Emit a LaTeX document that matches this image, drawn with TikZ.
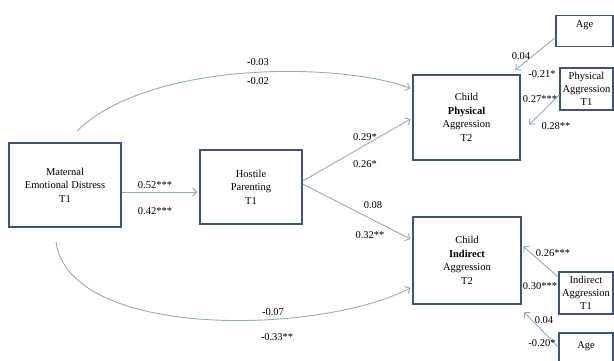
\documentclass[tikz,border=0pt]{standalone}
\usepackage{fontspec}
\setmainfont{Liberation Serif}
\usepackage{tikz}
\usetikzlibrary{arrows.meta}
\definecolor{boxline}{HTML}{3F5474}
\definecolor{arrline}{HTML}{93ABC6}

\begin{document}
\begin{tikzpicture}[x=1pt, y=-1pt, font=\fontsize{10.5}{13.6}\selectfont,
    var/.style={draw=boxline, line width=1.5pt, align=center, inner sep=2pt},
    link/.style={draw=arrline, line width=0.9pt, shorten >=2pt, -{Straight Barb[length=4pt,width=8pt]}},
    coef/.style={inner sep=1pt}]
    \useasboundingbox (0,0) rectangle (614,361);
    % variables
    \node[var, minimum width=112pt, minimum height=84pt] (med) at (65,185) {Maternal\\Emotional Distress\\T1};
    \node[var, minimum width=102pt, minimum height=74pt] (hp) at (251,187) {Hostile\\Parenting\\T1};
    \node[var, minimum width=107pt, minimum height=85pt] (cpa) at (466.5,117.5) {Child\\\textbf{Physical}\\Aggression\\T2};
    \node[var, minimum width=108pt, minimum height=87pt] (cia) at (467,260.5) {Child\\\textbf{Indirect}\\Aggression\\T2};
    % controls on the right
    \node[var, anchor=north, minimum width=57pt, text height=10pt, text depth=17pt] (age1) at (584.5,15) {Age};
    \node[var, minimum width=53pt, minimum height=42pt, inner sep=0pt, font=\fontsize{10.5}{12.8}\selectfont] (pa1) at (586.5,89) {Physical\\Aggression\\T1};
    \node[var, minimum width=54pt, minimum height=42pt, inner sep=0pt, font=\fontsize{10.5}{12.8}\selectfont] (ia1) at (586,293) {Indirect\\Aggression\\T1};
    \node[var, anchor=north, minimum width=54pt, text height=14pt, text depth=17pt] (age2) at (586,332) {Age};
    % paths
    \coordinate (mtop) at (77,131);
    \coordinate (mbot) at (56,242);
    \draw[link] ([yshift=-7pt]med.east) -- ([yshift=-5pt]hp.west);
    \draw[link] (mtop) .. controls (150,60) and (340,62) .. ([yshift=28.5pt]cpa.west);
    \draw[link] (mbot) .. controls (70,340) and (320,335) .. ([yshift=-26.5pt]cia.west);
    \draw[link] ([yshift=6pt]hp.east) -- ([yshift=-0.5pt]cpa.west);
    \draw[link] ([yshift=3pt]hp.east) -- ([yshift=20.5pt]cia.west);
    \draw[link] ([yshift=-6.5pt]age1.west) -- ([xshift=-7pt,yshift=3pt]cpa.north east);
    \draw[link] ([yshift=-6pt]pa1.west) -- ([xshift=7pt,yshift=-8.5pt]cpa.east);
    \draw[link] ([yshift=16pt]ia1.west) -- ([yshift=15.5pt]cia.east);
    \draw[link] ([yshift=-15pt]age2.north west) -- ([xshift=1pt,yshift=-6pt]cia.south east);
    % coefficients
    \node[coef] (top1) at (258,62) {-0.03};
    \node[coef] (top2) at (258,81) {-0.02};
    \node[coef] (mh1) at (155,185) {0.52***};
    \node[coef] (mh2) at (155,211) {0.42***};
    \node[coef] (hpa1) at (365,137) {0.29*};
    \node[coef] (hpa2) at (365,164) {0.26*};
    \node[coef] (hia1) at (373,205) {0.08};
    \node[coef] (hia2) at (370,235) {0.32**};
    \node[coef] (bot1) at (273,312) {-0.07};
    \node[coef] (bot2) at (277,337) {-0.33**};
    \node[coef] (agep1) at (521,56) {0.04};
    \node[coef] (agep2) at (542,74) {-0.21*};
    \node[coef] (pap1) at (540,99) {0.27***};
    \node[coef] (pap2) at (556,126) {0.28**};
    \node[coef] (iai1) at (553,253) {0.26***};
    \node[coef] (iai2) at (540,286) {0.30***};
    \node[coef] (agei1) at (544,320) {0.04};
    \node[coef] (agei2) at (542,343) {-0.20*};
\end{tikzpicture}
\end{document}
